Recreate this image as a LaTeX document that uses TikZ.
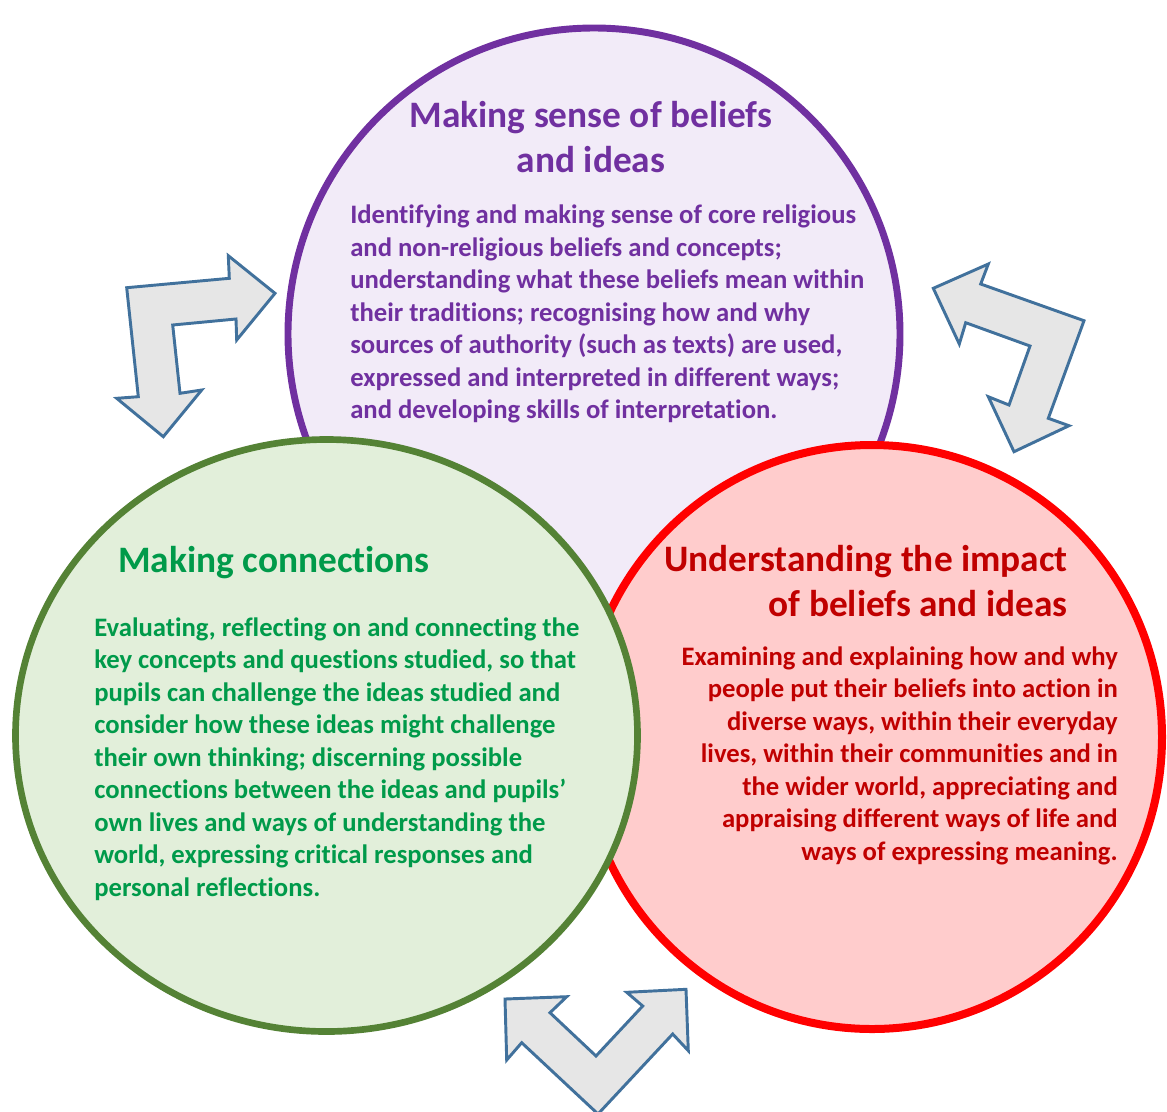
\documentclass[tikz,border=0pt]{standalone}
\usepackage{fontspec}
\setmainfont[Ligatures=NoCommon]{Carlito}
\definecolor{senseline}{HTML}{7030A0}
\definecolor{sensefill}{HTML}{F2EBF8}
\definecolor{impactline}{HTML}{FF0000}
\definecolor{impactfill}{HTML}{FFCCCC}
\definecolor{impacttext}{HTML}{C00000}
\definecolor{connectline}{HTML}{548235}
\definecolor{connectfill}{HTML}{E2EFDA}
\definecolor{connecttext}{HTML}{009A4A}
\definecolor{arrowline}{HTML}{41719C}
\definecolor{arrowfill}{HTML}{E6E6E6}
\begin{document}
\begin{tikzpicture}[x=0.75pt,y=-0.75pt,
  headtext/.style={inner sep=0pt,font=\fontsize{28}{33.75}\selectfont\bfseries},
  bodytext/.style={inner sep=0pt,font=\fontsize{20}{24.4}\selectfont\bfseries},
  blockarrow/.style={draw=arrowline,fill=arrowfill,line width=2.2pt,line join=miter}]
\useasboundingbox (0,0) rectangle (1167,1111);
% the three circles
\draw [senseline,fill=sensefill,line width=5.2pt] (594,334) circle [radius=306];
\draw [impactline,fill=impactfill,line width=6pt] (872,737) circle [x radius=290,y radius=292];
\draw [connectline,fill=connectfill,line width=5pt] (326.5,735.5) circle [x radius=311,y radius=296];
% beliefs and ideas
\node (sensehead) [headtext,senseline,align=center] at (591,137.5) {Making sense of beliefs\\and ideas};
\node (sensebody) [bodytext,senseline,align=left,anchor=west] at (350,314)
  {Identifying and making sense of core religious\\
   and non-religious beliefs and concepts;\\
   understanding what these beliefs mean within\\
   their traditions; recognising how and why\\
   sources of authority (such as texts) are used,\\
   expressed and interpreted in different ways;\\
   and developing skills of interpretation.};
% connections
\node (connecthead) [headtext,connecttext,anchor=west] at (118,563) {Making connections};
\node (connectbody) [bodytext,connecttext,align=left,anchor=west] at (94,759)
  {Evaluating, reflecting on and connecting the\\
   key concepts and questions studied, so that\\
   pupils can challenge the ideas studied and\\
   consider how these ideas might challenge\\
   their own thinking; discerning possible\\
   connections between the ideas and pupils’\\
   own lives and ways of understanding the\\
   world, expressing critical responses and\\
   personal reflections.};
% impact
\node (impacthead) [headtext,impacttext,align=right,anchor=east] at (1068,581) {Understanding the impact\\of beliefs and ideas};
\node (impactbody) [bodytext,impacttext,align=right,anchor=east] at (1118,755.5)
  {Examining and explaining how and why\\
   people put their beliefs into action in\\
   diverse ways, within their everyday\\
   lives, within their communities and in\\
   the wider world, appreciating and\\
   appraising different ways of life and\\
   ways of expressing meaning.};
% block arrows
\draw [blockarrow] (126.7,287.7) -- (229.3,278.3) -- (228.3,255.7) -- (275,293.3) -- (236.7,340) -- (236,319)
  -- (172.7,325) -- (180,393.3) -- (201.7,390) -- (163.3,436.7) -- (116.7,398.3) -- (138.3,396.7) -- cycle;
\draw [blockarrow] (933.3,288.3) -- (988.3,264) -- (980.7,284) -- (1084,320.7) -- (1048.3,418.3) -- (1069,425.7)
  -- (1014,451.7) -- (988.3,396.7) -- (1009,405) -- (1030,346) -- (965.7,322.7) -- (959.3,344) -- cycle;
\draw [blockarrow] (505,999) -- (566.7,996.7) -- (550,1012.7) -- (596,1056) -- (642.7,1006) -- (626.7,992.3)
  -- (686,989.3) -- (688.3,1050.7) -- (672.7,1034) -- (598,1114) -- (521.7,1042.7) -- (506.7,1060) -- cycle;
\end{tikzpicture}
\end{document}
